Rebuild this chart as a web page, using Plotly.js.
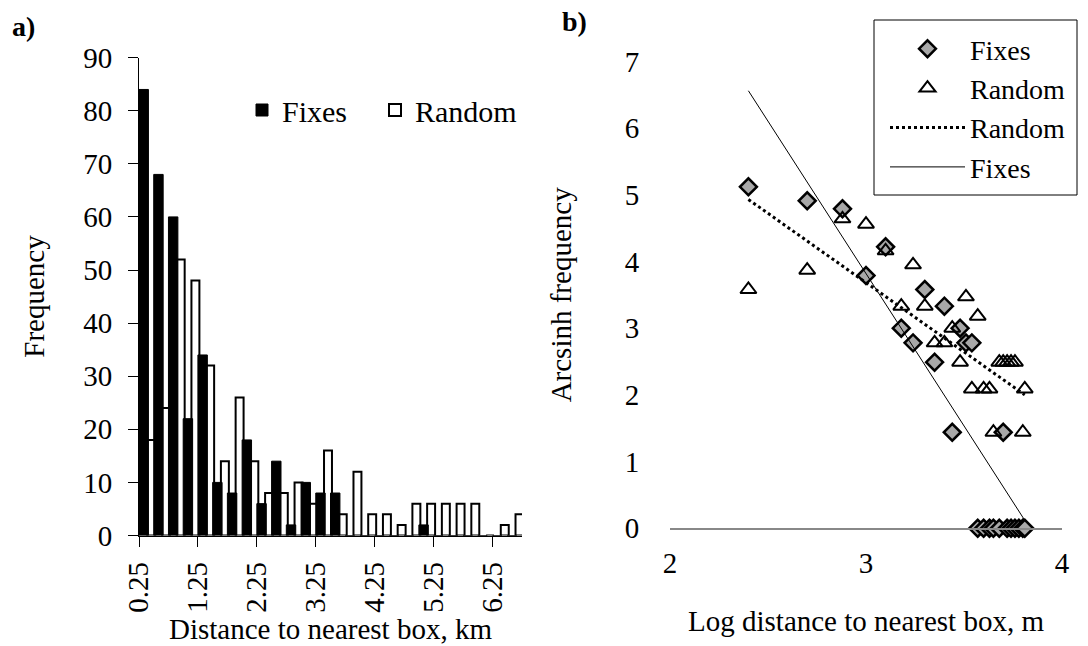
<!DOCTYPE html>
<html>
<head>
<meta charset="utf-8">
<script src="https://cdn.plot.ly/plotly-3.0.1.min.js"></script>
<style>html,body{margin:0;padding:0;background:#fff;}#chart{width:1088px;height:646px;}</style>
</head>
<body>
<div id="chart"></div>
<script>
// ---- Panel a: histogram (distance bins, km) ----
const binStarts = [0.25,0.5,0.75,1.0,1.25,1.5,1.75,2.0,2.25,2.5,2.75,3.0,3.25,3.5,3.75,4.0,4.25,4.5,4.75,5.0,5.25,5.5,5.75,6.0,6.25,6.5];
const fixesFreq  = [84,68,60,22,34,10,8,18,6,14,2,10,8,8,0,0,0,0,0,2,0,0,0,0,0,0];
const randomFreq = [18,24,52,48,32,14,26,14,8,8,10,6,16,4,12,4,4,2,6,6,6,6,6,0,2,4];
const histTickVals  = [0.25,1.25,2.25,3.25,4.25,5.25,6.25];
const histTickText  = ['0.25','1.25','2.25','3.25','4.25','5.25','6.25'];

// ---- Panel b: arcsinh frequency vs log distance ----
const logDist     = [2.40,2.70,2.88,3.00,3.10,3.18,3.24,3.30,3.35,3.40,3.44,3.48,3.51,3.54,3.57,3.60,3.63,3.65,3.68,3.70,3.72,3.74,3.76,3.78,3.80,3.81];
const fixesAsinh  = [5.12,4.91,4.79,3.79,4.22,3.00,2.78,3.58,2.49,3.33,1.44,3.00,2.78,2.78,0,0,0,0,0,1.44,0,0,0,0,0,0];
const randomAsinh = [3.58,3.87,4.64,4.56,4.16,3.33,3.95,3.33,2.78,2.78,3.00,2.49,3.47,2.09,3.18,2.09,2.09,1.44,2.49,2.49,2.49,2.49,2.49,null,1.44,2.09];
const randomTrendX = [2.40,3.81];
const randomTrendY = [4.93,2.00];
const fixesTrendX  = [2.40,3.81];
const fixesTrendY  = [6.56,0.12];

const FAM = 'Liberation Serif';
const f = (size) => ({family:FAM, size:size, color:'black'});
const W = 1088, H = 646;
const px = v => v / W;
const py = v => (H - v) / H;

const traces = [
  {type:'bar', x:binStarts, y:randomFreq, name:'Random', xaxis:'x', yaxis:'y',
   offset:0.14, width:0.135, marker:{color:'white', line:{color:'black', width:2}},
   legend:'legend3', hoverinfo:'skip'},
  {type:'bar', x:binStarts, y:fixesFreq, name:'Fixes', xaxis:'x', yaxis:'y',
   offset:0.0, width:0.16, marker:{color:'black', line:{color:'black', width:1}},
   legend:'legend', hoverinfo:'skip'},

  {type:'scatter', mode:'markers', x:logDist, y:fixesAsinh, name:'Fixes', xaxis:'x2', yaxis:'y2',
   marker:{symbol:'diamond', size:13, color:'#a8a8a8', line:{color:'black', width:2.5}},
   legend:'legend2', legendgroup:'g1', cliponaxis:false},
  {type:'scatter', mode:'markers', x:logDist, y:randomAsinh, name:'Random', xaxis:'x2', yaxis:'y2',
   marker:{symbol:'triangle-up-open', size:14, color:'black', line:{color:'black', width:2}},
   legend:'legend2', legendgroup:'g2', cliponaxis:false},
  {type:'scatter', mode:'lines', x:randomTrendX, y:randomTrendY, name:'Random', xaxis:'x2', yaxis:'y2',
   line:{color:'black', width:3, dash:'dot'}, legend:'legend2', legendgroup:'g3'},
  {type:'scatter', mode:'lines', x:fixesTrendX, y:fixesTrendY, name:'Fixes', xaxis:'x2', yaxis:'y2',
   line:{color:'black', width:1}, legend:'legend2', legendgroup:'g4'}
];

const layout = {
  width:W, height:H, margin:{l:0,r:0,t:0,b:0},
  paper_bgcolor:'white', plot_bgcolor:'white',
  font:f(29),
  barmode:'overlay', showlegend:true,
  xaxis:{domain:[px(139), px(522)], anchor:'y', range:[0.25,6.75],
    tickvals:histTickVals, ticktext:histTickText, tickangle:-90,
    ticks:'outside', ticklen:10, tickcolor:'black', showline:true, linecolor:'black', linewidth:1,
    showgrid:false, zeroline:false, tickfont:f(29), ticklabelstandoff:4,
    title:{text:'Distance to nearest box, km', font:f(29), standoff:2}},
  yaxis:{domain:[py(535.5), py(57.6)], anchor:'x', range:[0,90], dtick:10,
    ticks:'outside', ticklen:10, tickcolor:'black', showline:true, linecolor:'black', linewidth:1,
    showgrid:false, zeroline:false, tickfont:f(29), ticklabelstandoff:10,
    title:{text:'Frequency', font:f(29), standoff:30}},
  xaxis2:{domain:[px(670), px(1062)], anchor:'y2', range:[2,4], dtick:1,
    ticks:'outside', ticklen:8, tickcolor:'rgba(0,0,0,0)', showline:true, linecolor:'#888', linewidth:1.5,
    showgrid:false, zeroline:false, tickfont:f(29),
    title:{text:'Log distance to nearest box, m', font:f(29), standoff:33}},
  yaxis2:{domain:[py(528.3), py(61.4)], anchor:'x2', range:[0,7], dtick:1,
    ticks:'outside', ticklen:24, tickcolor:'rgba(0,0,0,0)', showline:false,
    showgrid:false, zeroline:false, tickfont:f(29),
    title:{text:'Arcsinh frequency', font:f(29), standoff:44}},
  legend:{x:px(242), y:py(110), xanchor:'left', yanchor:'middle', orientation:'h',
    bgcolor:'rgba(0,0,0,0)', borderwidth:0, font:f(30)},
  legend3:{x:px(375), y:py(110), xanchor:'left', yanchor:'middle', orientation:'h',
    bgcolor:'rgba(0,0,0,0)', borderwidth:0, font:f(30)},
  legend2:{x:px(885), y:py(24), xanchor:'left', yanchor:'top', orientation:'v',
    bgcolor:'rgba(0,0,0,0)', borderwidth:0, font:f(28),
    itemwidth:75, traceorder:'grouped', tracegroupgap:0},
  shapes:[
    {type:'rect', xref:'paper', yref:'paper', x0:px(874), x1:px(1077), y0:py(195), y1:py(20),
     line:{color:'black', width:1}, fillcolor:'rgba(0,0,0,0)', layer:'below'}
  ],
  annotations:[
    {text:'<b>a)</b>', x:px(10), y:py(26), xref:'paper', yref:'paper', showarrow:false, xanchor:'left', yanchor:'middle', font:f(28)},
    {text:'<b>b)</b>', x:px(560), y:py(22), xref:'paper', yref:'paper', showarrow:false, xanchor:'left', yanchor:'middle', font:f(28)}
  ]
};

Plotly.newPlot('chart', traces, layout, {displayModeBar:false, staticPlot:true});
</script>
</body>
</html>
